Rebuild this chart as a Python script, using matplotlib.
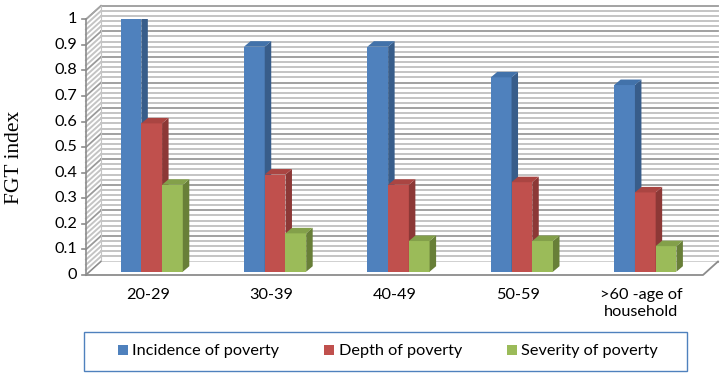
import matplotlib
matplotlib.use('Agg')
import matplotlib.pyplot as plt
from matplotlib.patches import Polygon, Rectangle
from matplotlib.lines import Line2D
import numpy as np

# ---------------- data ----------------
categories = ['20-29', '30-39', '40-49', '50-59', '>60 -age of\nhousehold']
incidence = [0.99, 0.88, 0.88, 0.76, 0.73]
depth_pov = [0.58, 0.38, 0.34, 0.35, 0.31]
severity = [0.34, 0.15, 0.12, 0.12, 0.10]
series_names = ['Incidence of poverty', 'Depth of poverty', 'Severity of poverty']
ytick_values = [0, 0.1, 0.2, 0.3, 0.4, 0.5, 0.6, 0.7, 0.8, 0.9, 1.0]
ytick_labels = ['0', '0.1', '0.2', '0.3', '0.4', '0.5', '0.6', '0.7', '0.8', '0.9', '1']
y_label = 'FGT index'

# ---------------- style ----------------
front_cols = ['#4F81BD', '#C0504D', '#9BBB59']
side_cols = ['#385D8A', '#8C3836', '#687F38']
top_cols = ['#4272AA', '#AA4542', '#83A04A']
FONT = ['Lato', 'DejaVu Sans']
FS = 11.7

W, H = 727, 377
fig = plt.figure(figsize=(W / 100, H / 100), dpi=100)
L, R, B, T = 86, 703, 275, 19.3
ax = fig.add_axes([L / W, 1 - B / H, (R - L) / W, (B - T) / H])
n = len(categories)
ax.set_xlim(-0.5, n - 0.5)
ax.set_ylim(0, 1)
ax.axis('off')

px_x = (R - L) / n
px_y = (B - T)


def off(dxp, dyp):
    return dxp / px_x, dyp / px_y


x0, x1 = -0.5, n - 0.5
Dx, Dy = off(15, 13.5)  # full wall depth

# walls (white)
ax.add_patch(Polygon([(x0 + Dx, Dy), (x1 + Dx, Dy), (x1 + Dx, 1 + Dy), (x0 + Dx, 1 + Dy)],
                     closed=True, fc='white', ec='none', zorder=0, clip_on=False))
ax.add_patch(Polygon([(x0, 0), (x0 + Dx, Dy), (x0 + Dx, 1 + Dy), (x0, 1)],
                     closed=True, fc='white', ec='none', zorder=0, clip_on=False))

# gridlines: minor stripes and major lines
minor = np.round(np.arange(0, 1.0001, 0.02), 4)
for v in minor:
    is_major = abs(v * 10 - round(v * 10)) < 1e-6
    c = '#9a9a9a' if is_major else '#c4c4c4'
    lw = 1.3 if is_major else 1.4
    ax.add_line(Line2D([x0 + Dx, x1 + Dx], [v + Dy, v + Dy], color=c, lw=lw,
                       zorder=1, clip_on=False))
    ax.add_line(Line2D([x0, x0 + Dx], [v, v + Dy], color=c, lw=lw,
                       zorder=1, clip_on=False))

# wall edges
ax.add_line(Line2D([x0, x0 + Dx, x1 + Dx], [1, 1 + Dy, 1 + Dy], color='#a6a6a6', lw=1.0,
                   zorder=1.5, clip_on=False))
ax.add_line(Line2D([x0 + Dx, x0 + Dx], [Dy, 1 + Dy], color='#c4c4c4', lw=0.8,
                   zorder=1.5, clip_on=False))

# floor
ax.add_patch(Polygon([(x0, 0), (x1, 0), (x1 + Dx, Dy), (x0 + Dx, Dy)],
                     closed=True, fc='white', ec='none', zorder=1.6, clip_on=False))
ax.add_line(Line2D([x0, x1, x1 + Dx, x1 + Dx], [0, 0, Dy, Dy + 0.0], color='#8c8c8c', lw=1.3,
                   zorder=1.7, clip_on=False))
ax.add_line(Line2D([x0, x0 + Dx], [0, Dy], color='#8c8c8c', lw=1.0,
                   zorder=1.7, clip_on=False))

# front left axis with ticks
ax.add_line(Line2D([x0, x0], [0, 1], color='#8c8c8c', lw=1.2, zorder=1.7, clip_on=False))
tdx, _ = off(4, 0)
for v, lab in zip(ytick_values, ytick_labels):
    ax.add_line(Line2D([x0 - tdx, x0], [v, v], color='#8c8c8c', lw=1.2, zorder=1.7,
                       clip_on=False))
    ax.text(x0 - off(9, 0)[0], v, lab, ha='right', va='center', fontsize=FS,
            family=FONT, color='#000000')

# bars
series = [incidence, depth_pov, severity]
bw = 0.168
fdx, fdy = off(4, 3.3)   # front face depth shift
bdx, bdy = off(6.5, 5.5)  # bar depth
handles = []
xs = np.arange(n)
for k, vals in enumerate(series):
    xc = xs + (k - 1) * bw + fdx
    bars = ax.bar(xc, vals, width=bw, bottom=fdy, color=front_cols[k], edgecolor='none',
                  zorder=3 + k, label=series_names[k])
    handles.append(bars)
    for xi, v in zip(xc, vals):
        xr = xi + bw / 2
        xl = xi - bw / 2
        top = fdy + v
        ax.add_patch(Polygon([(xr, fdy), (xr, top), (xr + bdx, top + bdy), (xr + bdx, fdy + bdy)],
                             closed=True, fc=side_cols[k], ec='none', zorder=3 + k))
        ax.add_patch(Polygon([(xl, top), (xr, top), (xr + bdx, top + bdy), (xl + bdx, top + bdy)],
                             closed=True, fc=top_cols[k], ec='none', zorder=3 + k))

# category labels
for i, lab in enumerate(categories):
    ax.text(i, -off(0, 13)[1], lab, ha='center', va='top', fontsize=FS, family=FONT,
            linespacing=1.3)

# y label
fig.text(15 / W, 1 - 157 / H, y_label, rotation=90, ha='center', va='center',
         fontsize=15.5, family=['Liberation Serif', 'DejaVu Serif'])

# legend frame (drawn separately) and legend entries
fig.add_artist(Rectangle((84 / W, 1 - 371 / H), (687 - 84) / W, (371 - 332) / H,
                         transform=fig.transFigure, fc='white', ec='#4F81BD', lw=1.0,
                         zorder=0.5))
leg = fig.legend(handles=handles, labels=series_names, loc='center',
                 bbox_to_anchor=(388 / W, 1 - 351.5 / H), ncol=3,
                 frameon=False, prop={'family': FONT, 'size': FS},
                 handlelength=0.6, handleheight=0.6, handletextpad=0.3,
                 columnspacing=2.75, borderpad=0.0, borderaxespad=0)
leg.set_zorder(2)

fig.savefig('out.png', dpi=100)
